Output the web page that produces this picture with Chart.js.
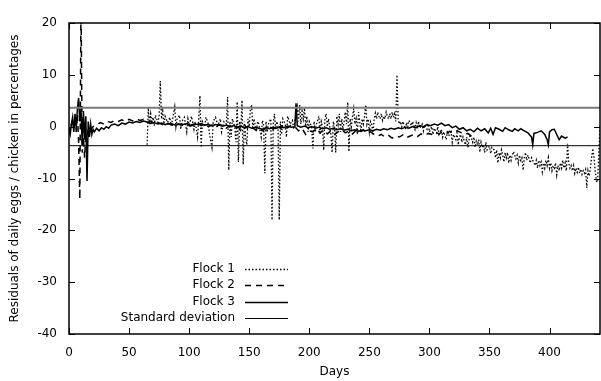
<!DOCTYPE html>
<html>
<head>
<meta charset="utf-8">
<script src="https://cdn.jsdelivr.net/npm/chart.js@4.4.0/dist/chart.umd.min.js"></script>
<style>
  html, body { margin: 0; padding: 0; background: #fff; }
</style>
</head>
<body>
<canvas id="chart" width="601" height="381"></canvas>
<script>
// x ticks (days) and y ticks (residuals in %)
const dayTicks = [0, 50, 100, 150, 200, 250, 300, 350, 400];
const residualTicks = [-40, -30, -20, -10, 0, 10, 20];
const dayRange = [0, 442];
const stdDev = 3.67;

// [day, residual]
const flock1 = [
  [65,-3.5],[66,3.6],[67,0.5],[68,2.5],[69,1],[70,1.8],[71,0.2],[72,2.2],[74,0.8],[75,2],[76,8.8],[77,1.5],[78,3],[79,0.5],
  [80,2],[82,0.8],[84,1.8],[85,0.2],[86,1.2],[88,3.8],[89,0],[90,1.5],[92,2.2],[93,-0.5],[94,1],[96,1.8],[98,-1],[99,1.5],
  [100,0.3],[102,2],[104,-0.5],[105,1],[107,-2],[108,1.5],[109,6],[110,-4],[111,1],[113,0],[114,1.8],[116,0.5],[117,-1.5],
  [119,-4],[120,1],[122,1.8],[124,0.2],[126,1.5],[127,-1],[129,1],[131,0.5],[132,5.7],[133,-8.4],[134,1],[135,-2],[136,1.5],
  [138,0],[139,-3],[140,4.8],[141,-6.8],[142,1],[143,-1],[144,5.1],[145,-7.3],[146,1],[147,-2],[148,-3.5],[149,1.5],[150,0],
  [151,3.5],[152,4.2],[153,-0.5],[154,1.5],[156,-1],[157,1],[158,0.5],[160,-2],[161,1.2],[162,0.3],[163,-9],[164,1],[165,-1],
  [166,0.5],[168,1.5],[169,-18],[170,0.5],[171,2.5],[172,-0.5],[173,1],[174,0],[175,-18],[176,1],[177,-1.5],[178,1.5],
  [180,0.5],[181,-2],[182,2],[184,0.5],[186,1.2],[187,-0.5],[188,1],[190,3.8],[191,1],[192,4.2],[193,0.5],[194,3],[195,1.5],
  [196,3.6],[197,0],[198,2],[199,-1],[200,1],[202,0],[203,-4.2],[204,1],[205,-1],[206,0.5],[208,2],[209,-1.5],[210,1],
  [211,0],[212,-4.5],[213,1.5],[214,2.5],[215,0],[216,1.5],[218,-1.5],[219,-5],[220,1],[221,0],[222,-5],[223,2],[224,0.5],
  [225,2.5],[226,-1],[227,1.5],[228,-0.5],[229,1],[230,2.8],[231,0.5],[232,4.7],[233,-4.8],[234,1.5],[235,0],[236,2],
  [237,3.5],[238,0.5],[239,1.5],[240,-1.5],[241,2.8],[242,1],[243,-1],[244,1.5],[245,0.5],[246,2],[247,4.2],[248,0.5],
  [249,1.5],[250,-1],[251,1],[252,0.5],[253,-1.5],[254,1.5],[255,2.6],[256,1.5],[257,2.8],[258,2],[259,1.5],[260,2.5],
  [261,1.2],[262,2],[263,1.5],[264,2.8],[265,2],[266,1.5],[267,2.5],[268,1.5],[269,2.8],[270,1.8],[271,2.5],[272,1],
  [273,10],[274,1.5],[275,0.5],[276,1],[277,0],[278,1],[279,0.3],[280,-0.5],[281,0.8],[282,0],[283,1.2],[285,0.2],[286,1],
  [288,-0.5],[289,0.8],[290,0],[291,1],[292,-0.3],[294,0.5],[295,-0.8],[296,0.3],[298,-0.5],[299,0.5],[300,-1],[302,0],
  [303,-1.5],[304,-0.3],[306,-1.2],[307,0],[308,-1.5],[310,-0.5],[311,-2],[312,-1],[314,-2.5],[315,-0.8],[316,-1.8],
  [318,-1],[319,-3],[320,-1.5],[322,-2.5],[323,-1.2],[324,-3.5],[325,-2],[326,-1.5],[327,-3],[328,-2],[330,-3.5],[331,-2],
  [332,-4],[333,-2.5],[334,-1.5],[336,-3],[337,-2],[338,-4],[339,-2.8],[340,-3.5],[341,-2.5],[342,-4.9],[343,-3],[344,-4],
  [345,-3.5],[346,-5],[347,-3],[348,-4.5],[350,-3.8],[351,-5.2],[352,-4],[354,-4.5],[355,-6],[356,-4.5],[357,-7],[358,-5],
  [359,-6],[360,-4.5],[361,-5.5],[362,-6.8],[363,-5],[364,-6],[365,-5],[366,-7],[367,-5.5],[368,-6.5],[369,-5.5],[370,-4.8],
  [372,-6.2],[373,-5.5],[374,-7],[375,-5.5],[376,-6.5],[377,-6],[378,-8.4],[379,-6],[380,-5],[381,-6.5],[382,-5.5],[384,-7],
  [385,-6],[386,-6.5],[388,-7.5],[389,-6.5],[390,-8],[391,-6.5],[392,-7.5],[393,-6.8],[394,-8.7],[395,-7],[396,-8],
  [397,-6.5],[398,-7.5],[399,-6],[400,-8],[401,-7],[402,-8.5],[403,-7.5],[404,-8],[405,-7],[406,-9.3],[407,-7.5],[408,-8.5],
  [409,-7],[410,-8],[411,-6.5],[412,-8],[413,-7],[414,-8.5],[415,-3.3],[416,-7],[417,-8],[418,-7.5],[419,-8.5],[420,-7.5],
  [421,-9],[422,-8],[423,-8.8],[424,-7.8],[425,-9],[426,-8.2],[427,-9.2],[428,-8.5],[429,-9],[430,-8.3],[431,-11.8],
  [432,-8.5],[433,-9.5],[434,-8],[435,-6],[436,-4.2],[437,-6],[438,-8.5],[439,-10.5],[440,-10.7],[441,-5],[442,0.3]
];

const flock2 = [
  [0,0],[1,-1],[2,0.5],[3,1.5],[4,-0.5],[5,2],[6,-1],[7,2.5],[8,-3],[9,-14],[10,24],[11,-5],[12,-2],[13,-6],[14,-1.5],
  [15,-3],[16,0],[18,-0.5],[20,0],[23,0.3],[26,0.8],[29,0.5],[32,1],[35,0.8],[38,1.2],[41,1],[44,1.3],[47,1],[50,1.4],
  [53,1.1],[56,1.5],[59,1.2],[62,1.4],[65,0.8],[68,1],[71,0.6],[74,0.8],[77,0.5],[80,0.2],[83,0.6],[86,0.3],[89,0.7],
  [92,0.4],[95,0.2],[98,0.5],[101,0.1],[104,0.4],[107,0.6],[110,0.2],[113,0.5],[116,0],[119,0.3],[122,-0.2],[125,0.4],
  [128,0.1],[131,-0.3],[134,0.2],[137,-0.2],[140,0],[143,-0.5],[146,0.3],[149,-0.4],[152,0],[155,-0.6],[158,-0.2],
  [161,-0.8],[164,-0.3],[167,0],[170,-0.5],[173,0.2],[176,-0.3],[179,0.5],[182,-0.2],[185,0.3],[188,0],[191,-0.8],
  [194,-0.3],[197,-1.5],[200,-0.8],[203,-1],[206,-0.4],[209,-1.2],[212,-0.6],[215,-1.4],[218,-0.8],[221,-1.5],[224,-1],
  [227,-0.6],[230,-1.2],[233,-0.8],[236,-1.4],[239,-0.7],[242,-1.1],[245,-0.6],[248,-1.3],[251,-1],[254,-1.5],[257,-1.8],
  [260,-1.5],[263,-2],[266,-1.7],[269,-2.2],[272,-1.8],[275,-2],[278,-1.6],[281,-2.1],[284,-1.8],[287,-1.5],[290,-1.9],
  [293,-1.4],[296,-1.7],[299,-1.3],[302,-1.5],[305,-1.1],[308,-1.4],[311,-1],[314,-1.3],[317,-0.9],[320,-1.2],[323,-0.8],
  [326,-1.1],[329,-1.5],[332,-1.3],[335,-1.8]
];

const flock3 = [
  [0,-0.5],[1,-1.5],[2,0.5],[3,1.8],[4,-1],[5,2.5],[6,-0.5],[7,3.5],[8,5.5],[9,1],[10,3.5],[11,-3.5],[12,3],[13,-2.5],
  [14,2],[15,-10.5],[16,1],[17,-2],[18,0.5],[19,-1.5],[20,-0.5],[21,-1],[23,-0.3],[25,-0.8],[27,-0.2],[29,-0.5],[31,0],
  [33,-0.3],[35,0.3],[38,0.5],[41,0.2],[44,0.7],[47,0.5],[50,0.9],[53,0.7],[56,1],[59,0.8],[62,1.1],[65,0.9],[68,0.6],
  [71,0.8],[74,0.5],[77,0.7],[80,0.4],[83,0.6],[86,0.5],[89,0.3],[92,0.5],[95,0.4],[98,0.6],[101,0.3],[104,0.5],[107,0.4],
  [110,0.6],[113,0.3],[116,0.4],[119,0.2],[122,0.4],[125,0.3],[128,0.1],[131,0.3],[134,0],[137,0.2],[140,-0.1],[143,0.1],
  [146,-0.2],[149,0],[152,-0.3],[155,-0.1],[158,-0.3],[161,-0.5],[164,-0.2],[167,-0.4],[170,-0.1],[173,-0.3],[176,0],
  [179,-0.2],[182,0.1],[185,-0.1],[188,0],[189,4.5],[190,0.2],[193,-0.1],[196,0.1],[199,-0.2],[202,0],[205,-0.3],
  [208,-0.1],[211,-0.4],[214,-0.2],[217,-0.5],[220,-0.3],[223,-0.6],[226,-0.4],[229,-0.7],[232,-0.5],[235,-0.8],
  [238,-0.6],[241,-0.9],[244,-0.7],[247,-0.8],[250,-0.6],[253,-0.8],[256,-0.5],[259,-0.7],[262,-0.4],[265,-0.6],
  [268,-0.3],[271,-0.5],[274,-0.2],[277,-0.4],[280,-0.1],[283,-0.3],[286,0],[289,-0.2],[292,0.2],[295,0],[298,0.4],
  [301,0.2],[304,0.5],[307,0.3],[310,0.7],[313,0.2],[316,0.4],[319,-0.2],[322,0.1],[325,-0.5],[328,-0.2],[331,-0.8],
  [334,-0.5],[337,-1],[340,-0.3],[343,-0.8],[346,-0.4],[349,-1.2],[351,-0.3],[353,-1.5],[355,-0.2],[358,-0.5],[361,-0.9],
  [363,-0.2],[366,-0.6],[369,-0.9],[371,-0.4],[374,-0.8],[376,-0.4],[379,-0.8],[382,-1.2],[385,-2],[386,-3.5],[387,-1.3],
  [390,-1.1],[393,-0.8],[396,-1.5],[398,-2.5],[399,-3.5],[400,-1],[402,-0.6],[404,-0.5],[406,-1.5],[408,-2.5],[410,-1.8],
  [413,-2.2],[415,-2]
];

const seriesNames = ['Flock 1', 'Flock 2', 'Flock 3', 'Standard deviation'];

Chart.defaults.font.family = "'DejaVu Sans', sans-serif";
Chart.defaults.font.size = 12;
Chart.defaults.color = '#000';

const toPts = pairs => pairs.map(p => ({ x: p[0], y: p[1] }));

// gnuplot style frame with inward ticks on all four sides
const framePlugin = {
  id: 'frame',
  afterDatasetsDraw(chart) {
    const { ctx, chartArea: a, scales: { x, y } } = chart;
    ctx.save();
    ctx.strokeStyle = '#000';
    ctx.lineWidth = 1;
    ctx.beginPath();
    dayTicks.forEach(d => {
      const px = Math.round(x.getPixelForValue(d)) + 0.5;
      ctx.moveTo(px, a.bottom); ctx.lineTo(px, a.bottom - 6);
      ctx.moveTo(px, a.top); ctx.lineTo(px, a.top + 6);
    });
    residualTicks.forEach(v => {
      const py = Math.round(y.getPixelForValue(v)) + 0.5;
      ctx.moveTo(a.left, py); ctx.lineTo(a.left + 6, py);
      ctx.moveTo(a.right, py); ctx.lineTo(a.right - 6, py);
    });
    ctx.stroke();
    ctx.lineWidth = 1.5;
    ctx.strokeRect(a.left, a.top, a.right - a.left, a.bottom - a.top);
    ctx.restore();
  }
};

// legend: text right-aligned, line sample to its right
const keyPlugin = {
  id: 'key',
  afterDraw(chart) {
    const { ctx } = chart;
    const rows = [
      { name: seriesNames[0], ds: 2 },
      { name: seriesNames[1], ds: 3 },
      { name: seriesNames[2], ds: 4 },
      { name: seriesNames[3], ds: 1 }
    ];
    ctx.save();
    ctx.font = "12px 'DejaVu Sans', sans-serif";
    ctx.textAlign = 'right';
    ctx.textBaseline = 'middle';
    rows.forEach((r, i) => {
      const yy = 269 + i * 16.3;
      const ds = chart.data.datasets[r.ds];
      ctx.fillStyle = '#000';
      ctx.fillText(r.name, 235, yy);
      ctx.strokeStyle = ds.borderColor;
      ctx.lineWidth = ds.borderWidth;
      ctx.setLineDash(ds.borderDash || []);
      ctx.beginPath();
      ctx.moveTo(245, Math.round(yy) + 0.5);
      ctx.lineTo(288, Math.round(yy) + 0.5);
      ctx.stroke();
    });
    ctx.restore();
  }
};

new Chart(document.getElementById('chart'), {
  type: 'line',
  data: {
    datasets: [
      { label: 'sd upper', data: toPts([[dayRange[0], stdDev], [dayRange[1], stdDev]]),
        borderColor: '#7a7a7a', borderWidth: 2 },
      { label: seriesNames[3], data: toPts([[dayRange[0], -stdDev], [dayRange[1], -stdDev]]),
        borderColor: '#000', borderWidth: 1 },
      { label: seriesNames[0], data: toPts(flock1), borderColor: '#000', borderWidth: 1.3, borderDash: [1.5, 2] },
      { label: seriesNames[1], data: toPts(flock2), borderColor: '#000', borderWidth: 1.5, borderDash: [6, 5] },
      { label: seriesNames[2], data: toPts(flock3), borderColor: '#000', borderWidth: 1.5 }
    ]
  },
  options: {
    responsive: false,
    animation: false,
    events: [],
    elements: { point: { radius: 0 }, line: { tension: 0, fill: false } },
    layout: { padding: { top: 23, right: 1, left: 0, bottom: 0 } },
    plugins: { legend: { display: false }, tooltip: { enabled: false } },
    scales: {
      x: {
        type: 'linear',
        min: dayRange[0],
        max: dayRange[1],
        afterBuildTicks: s => { s.ticks = dayTicks.map(v => ({ value: v })); },
        afterFit: s => { s.height = 47; },
        grid: { display: false, drawTicks: false },
        border: { display: false },
        ticks: { padding: 12, maxRotation: 0 },
        title: { display: true, text: 'Days', padding: { top: 0, bottom: 2 } }
      },
      y: {
        min: residualTicks[0],
        max: residualTicks[residualTicks.length - 1],
        afterBuildTicks: s => { s.ticks = residualTicks.map(v => ({ value: v })); },
        afterFit: s => { s.width = 69; },
        grid: { display: false, drawTicks: false },
        border: { display: false },
        ticks: { padding: 12 },
        title: { display: true, text: 'Residuals of daily eggs / chicken in percentages', padding: { top: 8, bottom: 0 } }
      }
    }
  },
  plugins: [framePlugin, keyPlugin]
});
</script>
</body>
</html>
